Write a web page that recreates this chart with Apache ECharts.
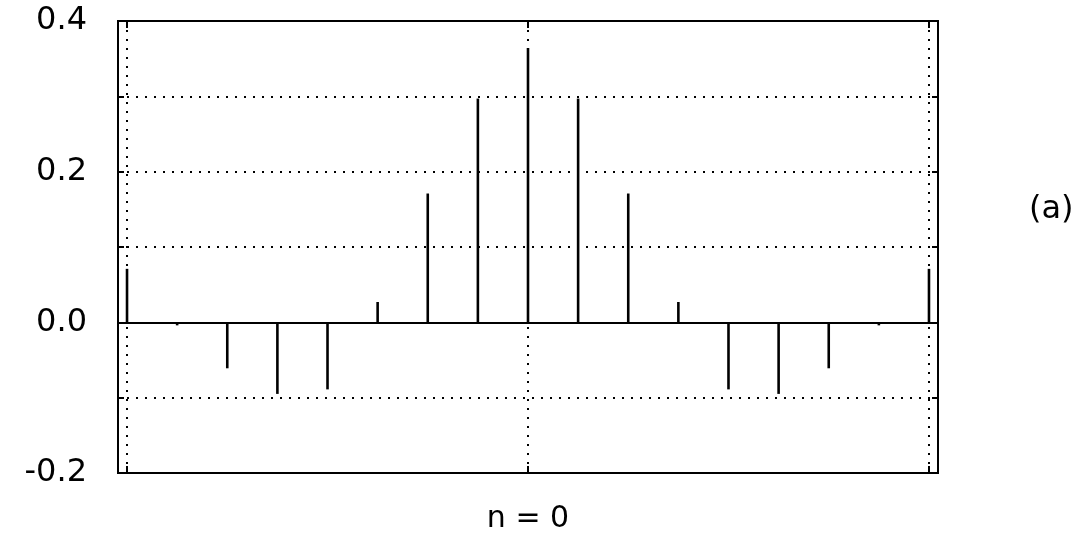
<!DOCTYPE html>
<html>
<head>
<meta charset="utf-8">
<script src="https://cdn.jsdelivr.net/npm/echarts@6/dist/echarts.min.js"></script>
<style>html,body{margin:0;padding:0;background:#fff;}#c{width:1088px;height:537px;}</style>
</head>
<body>
<div id="c"></div>
<script>
// sample index n
var nValues = [-8, -7, -6, -5, -4, -3, -2, -1, 0, 1, 2, 3, 4, 5, 6, 7, 8];
// h[n] values
var hValues = [0.071, -0.004, -0.061, -0.095, -0.089, 0.027, 0.171, 0.297, 0.364, 0.297, 0.171, 0.027, -0.089, -0.095, -0.061, -0.004, 0.071];
// vertical dotted grid positions
var gridX = [-8, 0, 8];
// y tick labels shown
var yLabelValues = [-0.2, 0.0, 0.2, 0.4];
var xAxisTitle = 'n = 0';
var panelLabel = '(a)';

var FONT = 'DejaVu Sans';
var chart = echarts.init(document.getElementById('c'), null, {renderer: 'canvas'});
var stemData = nValues.map(function (n, i) { return [n, hValues[i]]; });
var DOT = [2, 7];

var xCommon = {
  type: 'value', min: -8.18, max: 8.18,
  axisLine: {show: false, onZero: false},
  axisTick: {show: true, inside: true, length: 7, customValues: gridX, lineStyle: {color: '#000', width: 2}},
  axisLabel: {show: false},
  splitLine: {show: false}
};
var yCommon = {
  type: 'value', min: -0.2, max: 0.4, interval: 0.1,
  axisLine: {show: false, onZero: false},
  axisTick: {show: true, inside: true, length: 6, lineStyle: {color: '#000', width: 2}}
};

chart.setOption({
  animation: false,
  backgroundColor: '#fff',
  grid: {left: 118, right: 150, top: 21, bottom: 64, show: true, borderColor: '#000', borderWidth: 2,
    backgroundColor: 'transparent', containLabel: false, outerBoundsMode: 'none'},
  xAxis: [
    Object.assign({}, xCommon, {position: 'bottom', name: xAxisTitle, nameLocation: 'middle', nameGap: 31,
      nameTextStyle: {fontFamily: FONT, fontSize: 30, color: '#000'}}),
    Object.assign({}, xCommon, {position: 'top'})
  ],
  yAxis: [
    Object.assign({}, yCommon, {position: 'left',
      axisLabel: {show: true, margin: 31, fontFamily: FONT, fontSize: 32, color: '#000',
        formatter: function (v) {
          for (var i = 0; i < yLabelValues.length; i++) {
            if (Math.abs(yLabelValues[i] - v) < 1e-6) return yLabelValues[i].toFixed(1);
          }
          return '';
        }},
      splitLine: {show: true, lineStyle: {color: '#000', width: 2, type: DOT}}
    }),
    Object.assign({}, yCommon, {position: 'right', axisLabel: {show: false}, splitLine: {show: false}})
  ],
  graphic: [{
    type: 'text', left: 1029, top: 194,
    style: {text: panelLabel, font: '32px "DejaVu Sans"', fill: '#000'}
  }],
  series: [
    {
      type: 'line', data: [], silent: true,
      markLine: {
        symbol: 'none', silent: true, label: {show: false},
        lineStyle: {color: '#000', width: 2, type: DOT},
        data: gridX.map(function (x) { return {xAxis: x}; })
      }
    },
    {
      type: 'line', data: [], silent: true,
      markLine: {
        symbol: 'none', silent: true, label: {show: false},
        lineStyle: {color: '#000', width: 2.2, type: 'solid'},
        data: [{yAxis: 0}]
      }
    },
    {
      type: 'custom',
      data: stemData,
      renderItem: function (params, api) {
        var p0 = api.coord([api.value(0), 0]);
        var p1 = api.coord([api.value(0), api.value(1)]);
        return {
          type: 'line',
          shape: {x1: p0[0], y1: p0[1], x2: p1[0], y2: p1[1]},
          style: {stroke: '#000', lineWidth: 2.6}
        };
      },
      z: 5
    }
  ]
});
</script>
</body>
</html>
